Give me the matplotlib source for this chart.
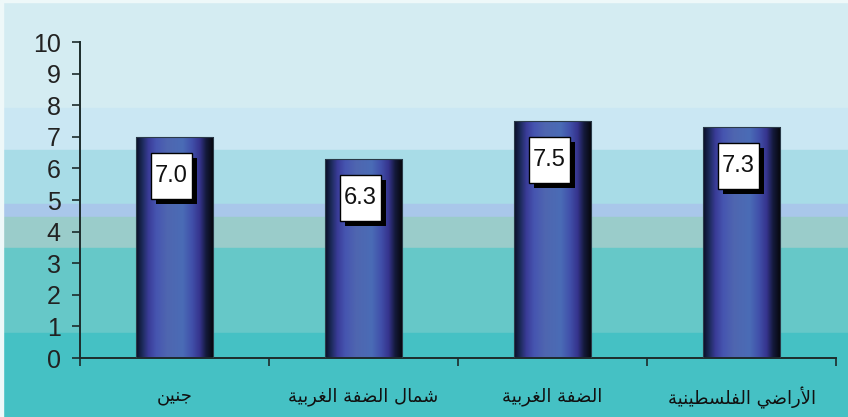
import numpy as np
import matplotlib
matplotlib.use("Agg")
from matplotlib import pyplot as plt
from matplotlib.patches import Rectangle
from matplotlib.colors import LinearSegmentedColormap

regions = ["جنين", "شمال الضفة الغربية", "الضفة الغربية", "الأراضي الفلسطينية"]
values = [7.0, 6.3, 7.5, 7.3]
y_ticks = list(range(0, 11))

# Arabic presentation forms: isolated, final, initial, medial
FORMS = {
    "ا": ("\uFE8D", "\uFE8E", None, None),
    "أ": ("\uFE83", "\uFE84", None, None),
    "ب": ("\uFE8F", "\uFE90", "\uFE91", "\uFE92"),
    "ة": ("\uFE93", "\uFE94", None, None),
    "ج": ("\uFE9D", "\uFE9E", "\uFE9F", "\uFEA0"),
    "ر": ("\uFEAD", "\uFEAE", None, None),
    "س": ("\uFEB1", "\uFEB2", "\uFEB3", "\uFEB4"),
    "ش": ("\uFEB5", "\uFEB6", "\uFEB7", "\uFEB8"),
    "ض": ("\uFEBD", "\uFEBE", "\uFEBF", "\uFEC0"),
    "ط": ("\uFEC1", "\uFEC2", "\uFEC3", "\uFEC4"),
    "غ": ("\uFECD", "\uFECE", "\uFECF", "\uFED0"),
    "ف": ("\uFED1", "\uFED2", "\uFED3", "\uFED4"),
    "ل": ("\uFEDD", "\uFEDE", "\uFEDF", "\uFEE0"),
    "م": ("\uFEE1", "\uFEE2", "\uFEE3", "\uFEE4"),
    "ن": ("\uFEE5", "\uFEE6", "\uFEE7", "\uFEE8"),
    "ي": ("\uFEF1", "\uFEF2", "\uFEF3", "\uFEF4"),
}
LAM_ALEF = {"أ": ("\uFEF7", "\uFEF8"), "ا": ("\uFEFB", "\uFEFC")}


def joins_left(ch):
    return ch in FORMS and FORMS[ch][2] is not None


def shape(text):
    out = []
    i = 0
    while i < len(text):
        ch = text[i]
        if ch not in FORMS:
            out.append(ch)
            i += 1
            continue
        prev_joins = i > 0 and joins_left(text[i - 1])
        if ch == "ل" and i + 1 < len(text) and text[i + 1] in LAM_ALEF:
            iso, fin = LAM_ALEF[text[i + 1]]
            out.append(fin if prev_joins else iso)
            i += 2
            continue
        next_is_letter = i + 1 < len(text) and text[i + 1] in FORMS
        iso, fin, ini, med = FORMS[ch]
        if joins_left(ch) and next_is_letter:
            out.append(med if prev_joins else ini)
        else:
            out.append(fin if prev_joins else iso)
        i += 1
    return "".join(reversed(out))


fig = plt.figure(figsize=(8.48, 4.17), dpi=100)
W, H = 848, 417

# horizontal colour bands behind the plot (pixel rows from the top)
bands = [(0, 108, "#d4ecf2"), (108, 150, "#cae7f3"), (150, 204, "#a8dce7"),
         (204, 217, "#a9c7ea"), (217, 248, "#9accca"), (248, 333, "#66c8c8"),
         (333, 417, "#45c1c4")]
for top, bot, col in bands:
    fig.add_artist(Rectangle((0, 1 - bot / H), 1, (bot - top) / H,
                             transform=fig.transFigure, color=col, zorder=-10))
fig.add_artist(Rectangle((0, 0), 3 / W, 1, transform=fig.transFigure,
                         color="#eef8f9", zorder=-9))
fig.add_artist(Rectangle((0, 1 - 2 / H), 1, 2 / H, transform=fig.transFigure,
                         color="#eef8f9", zorder=-9))

ax = fig.add_axes([80 / W, 59 / H, 756 / W, 316 / H])
ax.set_facecolor("none")
x = np.arange(len(values))

cyl = LinearSegmentedColormap.from_list("cyl", [
    (0.0, "#0a0c24"), (0.08, "#1c2a5a"), (0.16, "#3a3c98"), (0.26, "#4655b0"),
    (0.4, "#4f66b0"), (0.6, "#4a6cb6"), (0.72, "#4150aa"), (0.82, "#35338c"),
    (0.9, "#141a3c"), (1.0, "#050508")])
grad = np.linspace(0, 1, 256).reshape(1, -1)

bars = ax.bar(x, values, width=0.41, facecolor="none", edgecolor="#2a3a48",
              linewidth=0.8, zorder=3)
for b in bars:
    im = ax.imshow(grad, cmap=cyl, aspect="auto", zorder=2,
                   extent=(b.get_x(), b.get_x() + b.get_width(), 0, b.get_height()))
    im.set_clip_path(b)

ax.set_xlim(-0.5, len(values) - 0.5)
ax.set_ylim(0, 10)

num_font = ["Liberation Sans", "DejaVu Sans"]

# value boxes with a drop shadow, placed just below each bar top
fig.canvas.draw()
bw, bh = 41, 46
for xi, v in zip(x, values):
    px, py = ax.transData.transform((xi, v))
    left = px - 3 - bw / 2
    top = py - 16
    fig.add_artist(Rectangle((left + 5, top - bh - 5), bw, bh, transform=None,
                             facecolor="#000000", edgecolor="none", zorder=5))
    fig.add_artist(Rectangle((left, top - bh), bw, bh, transform=None,
                             facecolor="white", edgecolor="black", linewidth=1,
                             zorder=6))
    fig.text(left + bw / 2, top - bh / 2, f"{v:.1f}", transform=None,
             ha="center", va="center", fontsize=17, family=num_font,
             color="#111111", zorder=7)

ax.set_yticks(y_ticks)
ax.set_yticklabels([str(t) for t in y_ticks], family=num_font, fontsize=18,
                   color="#222222")
ax.tick_params(axis="y", length=6, width=1.2, pad=8, color="#1d2b2b")

ax.set_xticks(x)
ax.set_xticklabels([shape(r) for r in regions], fontsize=13, family="DejaVu Sans",
                   color="#111111")
ax.set_xticks(np.arange(-0.5, len(values) + 0.5), minor=True)
ax.tick_params(axis="x", which="major", length=0, pad=21)
ax.tick_params(axis="x", which="minor", length=6, width=1.2, color="#1d2b2b")

for s in ("top", "right"):
    ax.spines[s].set_visible(False)
for s in ("left", "bottom"):
    ax.spines[s].set_color("#1d2b2b")
    ax.spines[s].set_linewidth(1.4)

fig.savefig("out.png", dpi=100)
